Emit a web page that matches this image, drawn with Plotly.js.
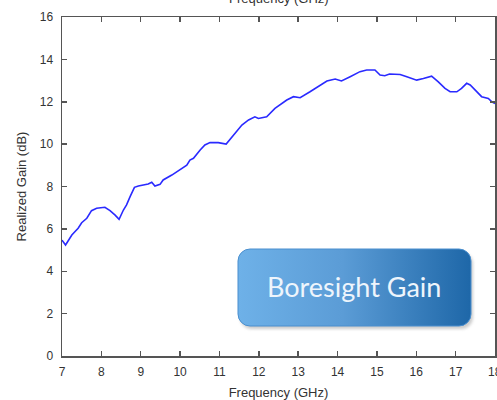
<!DOCTYPE html>
<html>
<head>
<meta charset="utf-8">
<script src="https://cdn.plot.ly/plotly-3.0.1.min.js"></script>
<style>html,body{margin:0;padding:0;background:#fff;}#chart{width:497px;height:400px;}</style>
</head>
<body>
<div id="chart"></div>
<script>
const freqGHz = [7.0, 7.09, 7.25, 7.41, 7.5, 7.63, 7.75, 7.88, 8.09, 8.22, 8.35, 8.45, 8.56, 8.64, 8.73, 8.84, 8.94, 9.07, 9.19, 9.28, 9.36, 9.49, 9.57, 9.79, 10.0, 10.17, 10.25, 10.34, 10.51, 10.63, 10.76, 10.97, 11.17, 11.27, 11.44, 11.57, 11.74, 11.9, 11.99, 12.2, 12.41, 12.71, 12.88, 13.05, 13.3, 13.51, 13.73, 13.94, 14.1, 14.32, 14.57, 14.74, 14.95, 15.08, 15.2, 15.32, 15.59, 15.76, 16.01, 16.18, 16.39, 16.56, 16.73, 16.86, 17.03, 17.15, 17.28, 17.37, 17.54, 17.66, 17.83, 17.92, 18.0];
const gainDB = [5.47, 5.24, 5.71, 6.03, 6.29, 6.5, 6.86, 6.97, 7.02, 6.86, 6.65, 6.45, 6.89, 7.13, 7.52, 7.96, 8.02, 8.07, 8.12, 8.2, 8.02, 8.1, 8.31, 8.54, 8.82, 9.01, 9.25, 9.33, 9.72, 9.96, 10.07, 10.07, 10.0, 10.23, 10.59, 10.9, 11.14, 11.29, 11.21, 11.29, 11.69, 12.08, 12.24, 12.19, 12.47, 12.71, 12.98, 13.07, 12.98, 13.18, 13.42, 13.5, 13.5, 13.26, 13.23, 13.31, 13.29, 13.18, 13.02, 13.1, 13.21, 12.94, 12.63, 12.47, 12.47, 12.63, 12.87, 12.79, 12.47, 12.24, 12.16, 12.0, 11.92];
const xTicks = [7, 8, 9, 10, 11, 12, 13, 14, 15, 16, 17, 18];
const yTicks = [0, 2, 4, 6, 8, 10, 12, 14, 16];
const xTitle = 'Frequency (GHz)';
const yTitle = 'Realized Gain (dB)';
const boxLabel = 'Boresight Gain';

const svg = '<svg xmlns="http://www.w3.org/2000/svg" width="240" height="84" viewBox="0 0 240 84">' +
  '<defs><linearGradient id="g" x1="0" y1="0" x2="1" y2="0">' +
  '<stop offset="0" stop-color="#6eb1e8"/><stop offset="0.45" stop-color="#5b9cd6"/><stop offset="1" stop-color="#1e67a8"/></linearGradient>' +
  '<filter id="s" x="-10%" y="-10%" width="120%" height="130%"><feGaussianBlur stdDeviation="1.5"/></filter></defs>' +
  '<rect x="3" y="4" width="233" height="77" rx="12" ry="12" fill="#999" opacity="0.5" filter="url(#s)"/>' +
  '<rect x="1" y="1" width="233" height="77" rx="12" ry="12" fill="url(#g)" stroke="#4a8fcf" stroke-width="1"/>' +
  '</svg>';
const imgSrc = 'data:image/svg+xml;base64,' + btoa(svg);

const FONT = 'Liberation Sans, Arial, sans-serif';
const axisCommon = {
  showgrid: false, zeroline: false, showline: true, mirror: 'ticks',
  linecolor: '#555', linewidth: 1.5, ticks: 'inside', ticklen: 5, tickwidth: 1.5,
  tickcolor: '#555', tickfont: {family: FONT, size: 12, color: '#333'}
};

const data = [{
  x: freqGHz, y: gainDB, type: 'scatter', mode: 'lines',
  line: {color: '#2a2aff', width: 1.6}, hoverinfo: 'skip'
}];

const lastX = xTicks[xTicks.length - 1];

const layout = {
  width: 497, height: 400,
  margin: {l: 62, r: 2, t: 17, b: 44},
  paper_bgcolor: '#fff', plot_bgcolor: '#fff',
  showlegend: false,
  xaxis: Object.assign({}, axisCommon, {
    range: [7, 18], tickvals: xTicks.slice(0, -1), ticktext: xTicks.slice(0, -1).map(String),
    ticklabelstandoff: 4,
    title: {text: xTitle, font: {family: FONT, size: 13, color: '#333'}, standoff: 12}
  }),
  yaxis: Object.assign({}, axisCommon, {
    range: [0, 16], tickvals: yTicks, ticktext: yTicks.map(String),
    ticklabelstandoff: 5,
    title: {text: yTitle, font: {family: FONT, size: 13, color: '#333'}, standoff: 10}
  }),
  images: [{
    source: imgSrc, xref: 'paper', yref: 'paper',
    x: (237 - 62) / 433, y: (356 - 248) / 339,
    sizex: 240 / 433, sizey: 84 / 339,
    xanchor: 'left', yanchor: 'top', sizing: 'stretch', layer: 'above'
  }],
  annotations: [
    {text: boxLabel, xref: 'paper', yref: 'paper', x: (354 - 62) / 433, y: (356 - 286) / 339,
     xanchor: 'center', yanchor: 'middle', showarrow: false,
     font: {family: 'Lato, Open Sans, sans-serif', size: 27, color: '#eef5fc'}},
    {text: String(lastX), xref: 'x', yref: 'paper', x: lastX, y: 0, yanchor: 'top', yshift: -7,
     showarrow: false, font: {family: FONT, size: 12, color: '#333'}},
    {text: xTitle, xref: 'paper', yref: 'paper', x: 0.5, y: 1, yanchor: 'bottom', yshift: 9,
     showarrow: false, font: {family: FONT, size: 13, color: '#333'}}
  ]
};

Plotly.newPlot('chart', data, layout, {displayModeBar: false, staticPlot: true});
</script>
</body>
</html>
